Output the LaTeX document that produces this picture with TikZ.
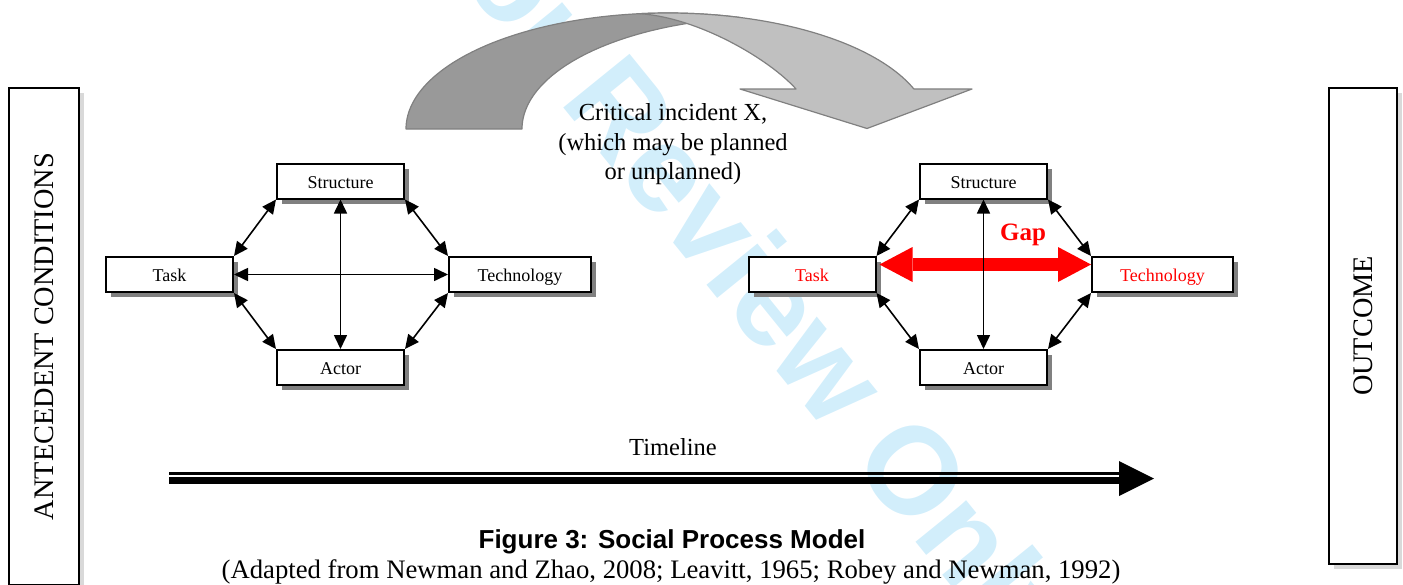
\documentclass[tikz,border=0pt]{standalone}
\usepackage{fontspec}
\setmainfont{Liberation Serif}
\newfontfamily\sansfont{Liberation Sans}
\usetikzlibrary{arrows.meta,shadows,calc}

\definecolor{wmblue}{RGB}{210,238,251}
\definecolor{ribbondark}{RGB}{153,153,153}
\definecolor{ribbonlight}{RGB}{192,192,192}
\definecolor{ribbonedge}{RGB}{128,128,128}
\definecolor{shadowdark}{RGB}{128,128,128}
\definecolor{shadowlight}{RGB}{217,217,217}
\definecolor{gapred}{RGB}{255,0,0}

\tikzset{
  elem/.style={draw, fill=white, line width=2pt, minimum width=127pt,
    minimum height=35pt, inner sep=0pt, text height=14.5pt, text depth=0pt,
    font=\fontsize{18}{20}\selectfont,
    drop shadow={shadow xshift=5pt, shadow yshift=-5pt, fill=shadowdark, opacity=1}},
  panel/.style={draw, fill=white, line width=2pt, inner sep=0pt,
    drop shadow={shadow xshift=5pt, shadow yshift=-5pt, fill=shadowlight, opacity=1}},
  paneltext/.style={rotate=90, inner sep=0pt, font=\fontsize{28.3}{32}\selectfont},
  link/.style={line width=1.6pt,
    {Triangle[length=14pt,width=13pt]}-{Triangle[length=14pt,width=13pt]}},
  gaparrow/.style={draw=gapred, line width=13pt,
    {Triangle[length=33pt,width=35pt,line width=0pt]}-{Triangle[length=33pt,width=35pt,line width=0pt]}},
  bodytext/.style={inner sep=0pt, font=\fontsize{24.5}{29.5}\selectfont},
}

\begin{document}
\begin{tikzpicture}[x=1pt,y=-1pt]
\useasboundingbox (0,0) rectangle (1403,584);

% review stamp behind the drawing
\node[font=\sansfont\bfseries\fontsize{124}{124}\selectfont, text=wmblue, rotate=-51]
  (stamp) at (742,277) {For Review Only};

% curved incident arrow: back (dark) part of the ribbon
\filldraw[fill=ribbondark, draw=ribbonedge, line width=1.2pt, line join=round]
  plot[domain=180:74.05, samples=80] ({668+262*cos(\x)},{129-116*sin(\x)})
  -- plot[domain=96.9:180, samples=80] ({770+248*cos(\x)},{129-112*sin(\x)})
  -- cycle;
% front (light) part with the arrow head
\filldraw[fill=ribbonlight, draw=ribbonedge, line width=1.2pt, line join=round]
  plot[domain=96.1:20.2, samples=80] ({668+262*cos(\x)},{129-116*sin(\x)})
  -- (972,89) -- (867,128.5) -- (740,89) -- (796,89)
  .. controls (770,60) and (700,18) .. (640.2,13.7) -- cycle;

\node[bodytext, align=center, anchor=north] (incident) at (673,103.3)
  {Critical incident X,\\(which may be planned\\or unplanned)};

% side panels
\node[panel, minimum width=70pt, minimum height=497pt] (ante) at (44,336.5) {};
\node[paneltext] (antetext) at (ante.center) {ANTECEDENT CONDITIONS};
\node[panel, minimum width=68pt, minimum height=476pt] (outc) at (1363,326) {};
\node[paneltext] (outctext) at (outc.center) {OUTCOME};

% initial configuration
\node[elem] (lStr) at (340.5,181) {Structure};
\node[elem] (lTask) at (169.5,274.5) {Task};
\node[elem, minimum width=142pt] (lTech) at (520,274.5) {Technology};
\node[elem] (lAct) at (340.5,367.5) {Actor};
\draw[link] (lStr.south west) -- (lTask.north east);
\draw[link] (lStr.south east) -- (lTech.north west);
\draw[link] (lTask.south east) -- (lAct.north west);
\draw[link] (lTech.south west) -- (lAct.north east);
\draw[link] (lTask.east) -- (lTech.west);
\draw[link] (lStr.south) -- (lAct.north);

% configuration after the incident
\node[elem] (rStr) at (983.5,181) {Structure};
\node[elem, text=gapred] (rTask) at (812,274.5) {Task};
\node[elem, minimum width=141pt, text=gapred] (rTech) at (1162.5,274.5) {Technology};
\node[elem] (rAct) at (983.5,367.5) {Actor};
\draw[link] (rStr.south west) -- (rTask.north east);
\draw[link] (rStr.south east) -- (rTech.north west);
\draw[link] (rTask.south east) -- (rAct.north west);
\draw[link] (rTech.south west) -- (rAct.north east);
\draw[gaparrow] ([xshift=3pt,yshift=10pt]rTask.east) -- ([yshift=10pt]rTech.west);
\draw[link] (rStr.south) -- (rAct.north);
\node[anchor=base, inner sep=0pt, text=gapred, font=\bfseries\fontsize{25}{30}\selectfont]
  (gap) at (1023,240.5) {Gap};

% timeline
\coordinate (tlstart) at (169,478.5);
\coordinate (tlend) at (1154,478.5);
\draw[line width=2.2pt] ($(tlstart)+(0,-5)$) -- ($(tlend)+(-34,-5)$);
\draw[line width=7.5pt] ($(tlstart)+(0,2.2)$) -- ($(tlend)+(-34,2.2)$);
\fill ($(tlend)+(-35,-17.5)$) -- (tlend) -- ($(tlend)+(-35,17.5)$) -- cycle;
\node[bodytext, anchor=base] (tltext) at (673,455) {Timeline};

% caption
\node[anchor=base, inner sep=0pt, font=\sansfont\bfseries\fontsize{26}{30}\selectfont]
  (caption) at (672,548) {Figure 3: Social Process Model};
\node[anchor=base, inner sep=0pt, font=\fontsize{26.7}{30}\selectfont]
  (source) at (671,578) {(Adapted from Newman and Zhao, 2008; Leavitt, 1965; Robey and Newman, 1992)};
\end{tikzpicture}
\end{document}
